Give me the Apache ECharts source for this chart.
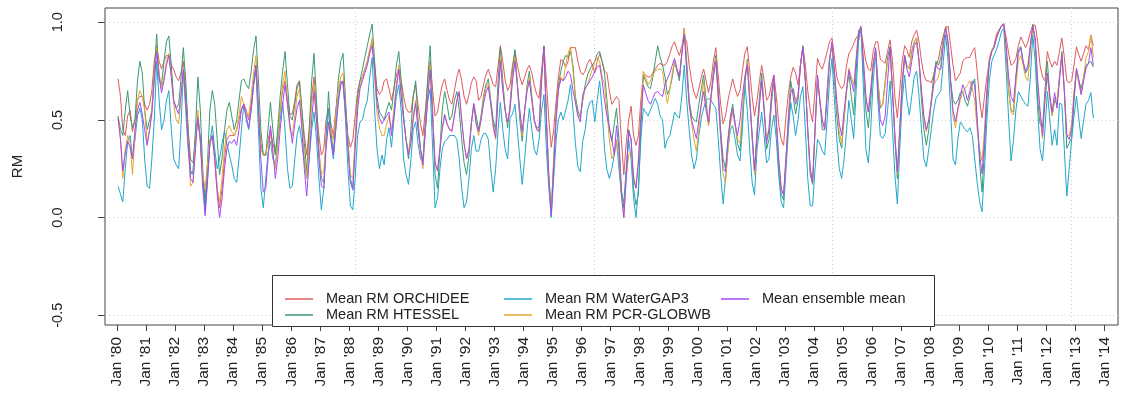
<!DOCTYPE html>
<html>
<head>
<meta charset="utf-8">
<script src="https://cdn.jsdelivr.net/npm/echarts@6/dist/echarts.min.js"></script>
<style>
  html, body { margin: 0; padding: 0; background: #ffffff; }
  #chart { width: 1126px; height: 408px; }
</style>
</head>
<body>
<div id="chart"></div>
<script>
// Monthly mean RM per model, Jan 1980 onward (one value per month)
const orchidee = [
  .71,.62,.45,.42,.52,.55,.44,.50,.60,.62,.62,.58,.55,.58,.65,.80,.88,.80,.76,.80,.83,.83,.78,.76,.72,.70,.74,.80,.65,.45,.30,.28,.42,.52,
  .40,.20,.10,.25,.38,.42,.30,.15,.05,.15,.30,.40,.42,.42,.42,.45,.50,.56,.58,.55,.50,.58,.70,.78,.55,.38,.32,.32,.40,.45,.38,.33,.42,.55,.65,.70,.60,.53,.53,
  .60,.68,.70,.55,.42,.32,.45,.62,.72,.55,.42,.32,.35,.50,.56,.48,.42,.55,.65,.70,.68,.55,.42,.36,.40,.52,.65,.70,.72,.76,.80,.86,.90,.78,.66,.63,.65,.70,
  .71,.66,.60,.66,.73,.76,.70,.62,.56,.54,.54,.62,.68,.58,.48,.42,.55,.70,.80,.65,.52,.54,.62,.68,.71,.65,.60,.58,.65,.72,.76,.70,.62,.58,.63,.69,.72,.70,
  .60,.62,.68,.73,.76,.72,.68,.67,.78,.88,.80,.70,.65,.68,.78,.85,.78,.72,.68,.72,.76,.78,.74,.68,.63,.61,.75,.88,.70,.50,.36,.45,.60,.72,.81,.80,.77,.80,
  .87,.87,.87,.80,.75,.73,.75,.79,.81,.78,.74,.80,.84,.80,.75,.74,.65,.58,.60,.62,.60,.40,.22,.38,.50,.57,.42,.37,.42,.60,.73,.73,.72,.72,.74,.76,.78,.79,.78,
  .78,.80,.84,.88,.90,.86,.83,.88,.93,.90,.78,.70,.64,.61,.66,.72,.76,.70,.64,.70,.80,.87,.72,.58,.48,.52,.60,.66,.71,.66,.62,.65,.75,.84,.875,.75,.62,.52,
  .60,.70,.78,.70,.60,.62,.68,.73,.62,.48,.40,.37,.52,.64,.72,.77,.74,.68,.78,.875,.78,.65,.55,.49,.65,.815,.78,.76,.80,.85,.90,.92,.82,.72,.68,.66,.68,.78,
  .84,.86,.89,.92,.935,.96,.88,.80,.76,.75,.85,.90,.90,.81,.80,.79,.85,.91,.80,.62,.51,.65,.80,.88,.86,.82,.90,.935,.96,.90,.80,.73,.70,.70,.69,.73,.78,.81,
  .88,.93,.97,.98,.88,.78,.70,.72,.74,.80,.815,.82,.82,.85,.87,.75,.60,.51,.62,.72,.80,.85,.88,.94,.96,.98,.99,.92,.84,.78,.79,.815,.88,.925,.90,.87,.90,.95,
  .985,.985,.90,.78,.72,.70,.85,.80,.77,.80,.78,.85,.92,.82,.70,.69,.70,.78,.875,.83,.80,.84,.88,.86,.935,.88
];
const htessel = [
  .52,.45,.42,.55,.65,.52,.46,.50,.70,.80,.74,.55,.45,.50,.55,.75,.94,.70,.68,.80,.90,.93,.78,.60,.56,.58,.70,.87,.70,.45,.24,.22,.45,.72,
  .55,.25,.05,.30,.55,.65,.58,.40,.22,.30,.45,.55,.59,.52,.45,.50,.60,.70,.71,.68,.66,.75,.86,.93,.70,.45,.32,.32,.45,.59,.45,.32,.45,.62,.75,.85,.68,.52,.50,
  .58,.66,.70,.55,.38,.24,.45,.70,.84,.60,.35,.20,.18,.40,.645,.45,.32,.52,.70,.80,.84,.60,.40,.20,.15,.40,.62,.70,.76,.82,.88,.94,.99,.80,.62,.54,.52,.50,
  .55,.59,.55,.65,.78,.85,.70,.52,.40,.30,.45,.62,.70,.50,.35,.29,.50,.72,.88,.55,.22,.15,.35,.55,.645,.58,.50,.52,.60,.645,.55,.40,.28,.22,.32,.48,.58,.52,
  .45,.52,.62,.68,.71,.60,.50,.45,.70,.87,.70,.55,.46,.58,.75,.86,.68,.50,.39,.55,.68,.75,.62,.50,.46,.46,.72,.875,.50,.20,.03,.30,.55,.68,.75,.80,.83,.82,
  .85,.78,.62,.55,.51,.60,.68,.73,.76,.78,.80,.84,.85,.80,.74,.60,.45,.39,.48,.56,.40,.15,.05,.22,.45,.40,.15,.065,.12,.45,.73,.70,.67,.66,.72,.80,.88,.82,.78,
  .72,.63,.66,.72,.80,.75,.70,.84,.97,.80,.60,.52,.50,.49,.58,.66,.73,.60,.47,.62,.75,.83,.65,.45,.30,.25,.40,.52,.58,.48,.38,.34,.50,.68,.81,.62,.42,.24,
  .45,.62,.74,.56,.35,.40,.58,.70,.48,.25,.12,.09,.30,.52,.70,.62,.53,.60,.78,.88,.70,.45,.22,.17,.45,.71,.60,.45,.45,.65,.82,.88,.70,.52,.40,.355,.52,.65,
  .74,.62,.525,.75,.94,.97,.75,.55,.46,.60,.78,.86,.70,.56,.58,.70,.82,.875,.65,.40,.20,.45,.70,.83,.78,.76,.85,.90,.92,.80,.60,.45,.37,.45,.60,.72,.80,.78,
  .82,.92,.98,.88,.70,.60,.58,.60,.64,.645,.60,.57,.62,.68,.71,.50,.28,.13,.35,.60,.80,.86,.875,.92,.96,.98,.99,.85,.65,.55,.54,.72,.86,.875,.80,.74,.76,.88,
  .99,.90,.60,.48,.46,.65,.80,.62,.525,.60,.58,.72,.85,.65,.355,.38,.41,.60,.75,.70,.66,.72,.78,.79,.80,.77
];
const watergap3 = [
  .16,.12,.08,.25,.39,.42,.30,.40,.52,.56,.50,.30,.16,.15,.30,.50,.80,.60,.45,.50,.60,.65,.45,.30,.27,.25,.45,.75,.55,.35,.22,.24,.40,.51,
  .40,.20,.03,.20,.38,.47,.35,.25,.30,.38,.44,.38,.32,.27,.20,.18,.30,.45,.58,.50,.45,.55,.68,.75,.45,.15,.05,.20,.33,.39,.30,.27,.38,.50,.59,.45,.25,.15,.16,
  .30,.42,.47,.38,.28,.20,.30,.45,.54,.40,.20,.04,.15,.40,.55,.40,.30,.45,.58,.68,.70,.50,.25,.06,.04,.20,.42,.49,.50,.56,.60,.72,.82,.55,.35,.25,.32,.27,
  .40,.46,.36,.50,.62,.68,.55,.30,.22,.17,.30,.45,.49,.38,.30,.29,.45,.60,.66,.35,.05,.10,.25,.35,.39,.40,.42,.42,.42,.40,.30,.15,.05,.08,.20,.35,.42,.34,
  .34,.40,.43,.43,.40,.25,.13,.25,.45,.59,.45,.35,.30,.51,.53,.58,.45,.30,.17,.30,.45,.56,.45,.35,.32,.40,.55,.63,.35,.15,.00,.20,.40,.50,.54,.50,.55,.60,
  .68,.55,.38,.26,.235,.39,.45,.55,.59,.60,.49,.60,.70,.55,.35,.245,.20,.25,.32,.39,.25,.12,.08,.25,.40,.30,.10,.00,.15,.40,.56,.54,.52,.55,.58,.61,.58,.52,.50,
  .355,.40,.42,.48,.54,.52,.51,.62,.78,.60,.45,.32,.25,.30,.42,.51,.56,.60,.61,.60,.58,.56,.40,.22,.07,.20,.35,.45,.47,.40,.32,.29,.45,.69,.55,.35,.18,.115,
  .35,.45,.54,.42,.28,.30,.45,.525,.40,.22,.08,.05,.25,.45,.59,.52,.42,.50,.62,.67,.45,.20,.06,.06,.25,.40,.38,.34,.32,.50,.70,.815,.60,.40,.25,.20,.30,.45,
  .60,.50,.405,.65,.90,.97,.65,.35,.28,.45,.70,.85,.60,.42,.405,.43,.55,.70,.45,.22,.07,.35,.60,.73,.60,.525,.62,.72,.75,.62,.45,.30,.26,.35,.45,.55,.61,.63,
  .65,.80,.935,.80,.55,.30,.27,.40,.49,.47,.45,.44,.46,.42,.30,.18,.08,.03,.25,.50,.70,.80,.83,.86,.90,.95,.97,.75,.50,.29,.40,.55,.645,.62,.60,.58,.57,.72,
  .935,.80,.55,.35,.29,.45,.645,.50,.37,.45,.37,.585,.58,.35,.11,.25,.40,.52,.62,.50,.405,.50,.58,.60,.64,.51
];
const pcrGlobwb = [
  .52,.40,.20,.35,.42,.38,.22,.42,.60,.65,.62,.55,.38,.45,.55,.72,.87,.74,.66,.72,.80,.84,.72,.58,.50,.48,.60,.76,.60,.40,.16,.18,.38,.55,
  .38,.22,.15,.28,.40,.41,.30,.15,.08,.20,.35,.45,.47,.44,.42,.45,.52,.62,.58,.54,.52,.62,.74,.83,.55,.35,.32,.33,.38,.43,.32,.25,.38,.55,.68,.75,.58,.45,.42,
  .52,.62,.66,.48,.32,.20,.38,.58,.68,.50,.33,.22,.24,.38,.48,.44,.40,.52,.65,.72,.74,.55,.38,.22,.20,.40,.58,.67,.72,.76,.80,.86,.92,.72,.54,.46,.42,.42,
  .48,.52,.45,.55,.68,.78,.64,.50,.40,.34,.40,.52,.60,.46,.33,.25,.45,.64,.78,.52,.28,.24,.36,.46,.53,.48,.45,.45,.52,.60,.64,.50,.38,.30,.35,.48,.58,.48,
  .42,.50,.60,.66,.69,.58,.46,.40,.63,.82,.66,.55,.48,.56,.72,.82,.68,.54,.42,.55,.66,.72,.60,.50,.45,.45,.70,.86,.52,.22,.04,.28,.52,.66,.72,.70,.78,.84,
  .875,.75,.60,.52,.52,.60,.66,.68,.72,.76,.80,.82,.80,.72,.68,.55,.40,.30,.33,.40,.30,.12,.00,.20,.32,.34,.22,.15,.30,.55,.75,.72,.68,.70,.73,.75,.76,.76,.75,
  .65,.585,.66,.74,.80,.76,.72,.85,.97,.75,.58,.48,.40,.34,.45,.58,.70,.56,.47,.60,.72,.815,.60,.40,.22,.18,.35,.48,.54,.47,.40,.38,.55,.72,.80,.60,.40,.22,
  .40,.58,.70,.55,.40,.46,.62,.72,.50,.30,.15,.12,.32,.52,.65,.66,.60,.63,.78,.87,.70,.45,.25,.18,.45,.72,.60,.50,.46,.62,.80,.90,.74,.56,.44,.38,.50,.65,
  .765,.72,.68,.82,.96,.97,.80,.62,.54,.66,.80,.84,.70,.57,.58,.68,.80,.84,.65,.42,.22,.45,.68,.80,.78,.76,.84,.90,.92,.80,.64,.50,.44,.50,.60,.68,.70,.72,
  .78,.90,.98,.88,.68,.52,.46,.55,.60,.645,.66,.68,.70,.66,.60,.45,.35,.29,.45,.65,.82,.86,.87,.92,.96,.98,.99,.85,.65,.54,.525,.68,.80,.83,.78,.72,.70,.85,
  .98,.90,.68,.52,.405,.60,.73,.60,.52,.61,.60,.72,.83,.65,.42,.42,.48,.65,.76,.68,.63,.72,.82,.85,.935,.82
];
const ensembleMean = [
  .51,.40,.24,.33,.39,.36,.30,.45,.55,.59,.53,.45,.37,.45,.53,.70,.85,.72,.64,.70,.78,.83,.72,.60,.56,.53,.62,.76,.60,.38,.20,.18,.35,.51,
  .40,.15,.01,.20,.38,.42,.30,.12,.00,.10,.25,.35,.39,.38,.40,.37,.45,.55,.58,.52,.46,.55,.68,.78,.55,.30,.13,.15,.30,.47,.35,.20,.30,.45,.58,.68,.58,.48,.38,
  .48,.56,.60,.45,.25,.11,.30,.50,.645,.50,.30,.16,.15,.35,.49,.40,.32,.45,.60,.68,.70,.55,.35,.18,.14,.35,.55,.66,.70,.74,.78,.84,.88,.75,.58,.51,.48,.50,
  .52,.54,.42,.52,.66,.76,.62,.50,.40,.32,.38,.50,.585,.45,.35,.27,.45,.62,.755,.50,.28,.24,.35,.45,.525,.48,.45,.44,.52,.60,.645,.50,.38,.30,.35,.48,.585,.48,
  .44,.50,.58,.64,.67,.58,.48,.41,.62,.80,.65,.55,.49,.55,.70,.80,.68,.55,.44,.55,.65,.70,.60,.50,.45,.44,.70,.87,.50,.20,.01,.25,.50,.65,.71,.70,.72,.75,
  .73,.65,.59,.52,.49,.63,.66,.68,.70,.72,.75,.77,.78,.70,.60,.52,.46,.40,.32,.47,.35,.12,.00,.20,.44,.40,.20,.15,.28,.50,.68,.64,.60,.58,.61,.64,.645,.63,.62,
  .68,.71,.74,.78,.815,.76,.72,.84,.94,.75,.58,.50,.45,.405,.50,.58,.645,.55,.49,.62,.72,.80,.62,.42,.25,.235,.40,.50,.56,.48,.42,.50,.62,.72,.78,.60,.42,.24,
  .40,.58,.70,.55,.38,.45,.62,.73,.50,.30,.15,.115,.30,.50,.64,.66,.58,.62,.78,.87,.70,.45,.25,.18,.45,.73,.60,.50,.45,.62,.80,.90,.75,.60,.48,.42,.55,.66,
  .755,.70,.645,.80,.95,.98,.80,.62,.54,.65,.78,.87,.65,.50,.47,.52,.70,.87,.65,.42,.235,.45,.68,.83,.76,.72,.80,.88,.90,.80,.65,.52,.45,.50,.58,.68,.78,.76,
  .76,.88,.97,.90,.70,.55,.49,.56,.62,.68,.65,.60,.65,.70,.68,.50,.32,.225,.40,.65,.80,.85,.87,.92,.95,.98,.995,.88,.72,.62,.59,.72,.84,.87,.80,.75,.78,.88,
  .98,.92,.70,.55,.42,.60,.74,.62,.54,.64,.56,.70,.83,.65,.42,.40,.45,.62,.765,.70,.63,.70,.765,.79,.87,.78
];

// Tick labels for the time axis (1 January of each year)
const yearLabels = ["Jan '80","Jan '81","Jan '82","Jan '83","Jan '84","Jan '85","Jan '86","Jan '87","Jan '88","Jan '89",
  "Jan '90","Jan '91","Jan '92","Jan '93","Jan '94","Jan '95","Jan '96","Jan '97","Jan '98","Jan '99",
  "Jan '00","Jan '01","Jan '02","Jan '03","Jan '04","Jan '05","Jan '06","Jan '07","Jan '08","Jan '09",
  "Jan '10","Jan '11","Jan '12","Jan '13","Jan '14"];
const yTicks = [-0.5, 0, 0.5, 1.0];
const xGridDays = [3000, 6000, 9000, 12000];

const seriesDefs = [
  { name: 'Mean RM ORCHIDEE',   values: orchidee,     color: '#E05A5E' },
  { name: 'Mean RM HTESSEL',    values: htessel,      color: '#3A9A6E' },
  { name: 'Mean RM WaterGAP3',  values: watergap3,    color: '#22A6CC' },
  { name: 'Mean RM PCR-GLOBWB', values: pcrGlobwb,    color: '#E6A532' },
  { name: 'Mean ensemble mean', values: ensembleMean, color: '#A54AF0' }
];

// x is counted in days since 1 Jan 1980
const DAY = 86400000;
const base = Date.UTC(1980, 0, 1);
const monthDay = m => (Date.UTC(1980, m, 15) - base) / DAY;
const yearDays = yearLabels.map((_, i) => (Date.UTC(1980 + i, 0, 1) - base) / DAY);
const labelOfDay = {};
yearDays.forEach((d, i) => { labelOfDay[d] = yearLabels[i]; });

const FONT = '"Liberation Sans", Arial, sans-serif';
const X_MIN = -150, X_MAX = 12590;

const chart = echarts.init(document.getElementById('chart'), null, { renderer: 'canvas' });

const legendCommon = {
  orient: 'vertical',
  icon: 'rect',
  itemWidth: 28,
  itemHeight: 1.5,
  itemGap: 0,
  selectedMode: false,
  z: 20,
  textStyle: { fontFamily: FONT, fontSize: 14.5, color: '#222', lineHeight: 16, padding: [0, 0, 0, 8] }
};

chart.setOption({
  animation: false,
  backgroundColor: '#ffffff',
  grid: { left: 105, right: 8, top: 8, bottom: 83, show: true, borderColor: '#444', borderWidth: 1, backgroundColor: 'transparent' },
  xAxis: [
    {
      type: 'value', min: X_MIN, max: X_MAX,
      axisLine: { show: false, onZero: false },
      axisTick: { show: true, customValues: yearDays, length: 6, lineStyle: { color: '#444' } },
      axisLabel: {
        customValues: yearDays, rotate: 90, margin: 12,
        fontFamily: FONT, fontSize: 15.5, color: '#222',
        formatter: v => labelOfDay[v] || ''
      },
      splitLine: { show: false }
    },
    {
      type: 'value', min: X_MIN, max: X_MAX, position: 'bottom',
      axisLine: { show: false, onZero: false },
      axisTick: { show: false, customValues: xGridDays },
      axisLabel: { show: false, customValues: xGridDays },
      splitLine: { show: true, lineStyle: { color: '#cfcfcf', type: [1, 3], width: 1 } }
    }
  ],
  yAxis: {
    type: 'value', min: -0.55, max: 1.073,
    name: 'RM', nameLocation: 'middle', nameGap: 80,
    nameTextStyle: { fontFamily: FONT, fontSize: 15, color: '#222' },
    axisLine: { show: false, onZero: false },
    axisTick: { show: true, customValues: yTicks, length: 7, lineStyle: { color: '#444' } },
    axisLabel: {
      customValues: yTicks, rotate: 90, margin: 40,
      fontFamily: FONT, fontSize: 14.5, color: '#222',
      formatter: v => v.toFixed(1)
    },
    splitLine: { show: true, lineStyle: { color: '#cfcfcf', type: [1, 3], width: 1 } }
  },
  legend: [
    Object.assign({}, legendCommon, { data: ['Mean RM ORCHIDEE', 'Mean RM HTESSEL'], left: 280, top: 286 }),
    Object.assign({}, legendCommon, { data: ['Mean RM WaterGAP3', 'Mean RM PCR-GLOBWB'], left: 499, top: 286 }),
    Object.assign({}, legendCommon, { data: ['Mean ensemble mean'], left: 716, top: 286 })
  ],
  graphic: [{
    type: 'rect', z: 15,
    shape: { x: 272.5, y: 275.5, width: 662, height: 51 },
    style: { fill: '#ffffff', stroke: '#333', lineWidth: 1 }
  }],
  series: seriesDefs.map(s => ({
    name: s.name,
    type: 'line',
    xAxisIndex: 0,
    showSymbol: false,
    symbol: 'none',
    color: s.color,
    lineStyle: { width: 1, color: s.color },
    data: s.values.map((v, m) => [monthDay(m), v])
  }))
});
</script>
</body>
</html>
